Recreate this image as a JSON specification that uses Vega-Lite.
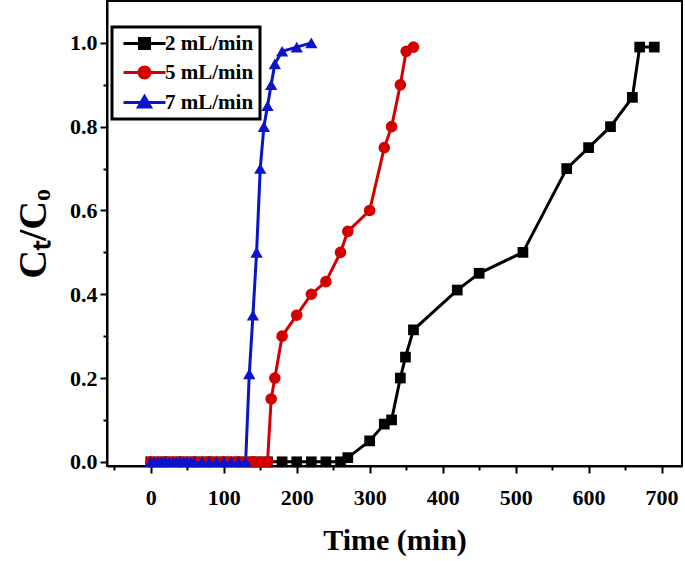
{
  "$schema": "https://vega.github.io/schema/vega-lite/v6.json",
  "width": 575,
  "height": 465,
  "autosize": {"type": "none"},
  "padding": {"left": 107, "top": 1, "right": 3, "bottom": 95},
  "background": "white",
  "config": {"view": {"stroke": "black", "strokeWidth": 2}, "font": "Liberation Serif"},
  "data": {"values": [
    {"series": "2 mL/min", "time": 0, "ratio": 0},
    {"series": "2 mL/min", "time": 20, "ratio": 0},
    {"series": "2 mL/min", "time": 40, "ratio": 0},
    {"series": "2 mL/min", "time": 60, "ratio": 0},
    {"series": "2 mL/min", "time": 80, "ratio": 0},
    {"series": "2 mL/min", "time": 100, "ratio": 0},
    {"series": "2 mL/min", "time": 120, "ratio": 0},
    {"series": "2 mL/min", "time": 140, "ratio": 0},
    {"series": "2 mL/min", "time": 160, "ratio": 0},
    {"series": "2 mL/min", "time": 180, "ratio": 0},
    {"series": "2 mL/min", "time": 200, "ratio": 0},
    {"series": "2 mL/min", "time": 220, "ratio": 0},
    {"series": "2 mL/min", "time": 240, "ratio": 0},
    {"series": "2 mL/min", "time": 260, "ratio": 0},
    {"series": "2 mL/min", "time": 270, "ratio": 0.01},
    {"series": "2 mL/min", "time": 300, "ratio": 0.05},
    {"series": "2 mL/min", "time": 320, "ratio": 0.09},
    {"series": "2 mL/min", "time": 330, "ratio": 0.1},
    {"series": "2 mL/min", "time": 342, "ratio": 0.2},
    {"series": "2 mL/min", "time": 349, "ratio": 0.25},
    {"series": "2 mL/min", "time": 360, "ratio": 0.315},
    {"series": "2 mL/min", "time": 420, "ratio": 0.41},
    {"series": "2 mL/min", "time": 450, "ratio": 0.45},
    {"series": "2 mL/min", "time": 510, "ratio": 0.5},
    {"series": "2 mL/min", "time": 570, "ratio": 0.7},
    {"series": "2 mL/min", "time": 600, "ratio": 0.75},
    {"series": "2 mL/min", "time": 630, "ratio": 0.8},
    {"series": "2 mL/min", "time": 660, "ratio": 0.87},
    {"series": "2 mL/min", "time": 670, "ratio": 0.99},
    {"series": "2 mL/min", "time": 690, "ratio": 0.99},
    {"series": "5 mL/min", "time": 0, "ratio": 0},
    {"series": "5 mL/min", "time": 10, "ratio": 0},
    {"series": "5 mL/min", "time": 20, "ratio": 0},
    {"series": "5 mL/min", "time": 30, "ratio": 0},
    {"series": "5 mL/min", "time": 40, "ratio": 0},
    {"series": "5 mL/min", "time": 50, "ratio": 0},
    {"series": "5 mL/min", "time": 60, "ratio": 0},
    {"series": "5 mL/min", "time": 70, "ratio": 0},
    {"series": "5 mL/min", "time": 80, "ratio": 0},
    {"series": "5 mL/min", "time": 90, "ratio": 0},
    {"series": "5 mL/min", "time": 100, "ratio": 0},
    {"series": "5 mL/min", "time": 110, "ratio": 0},
    {"series": "5 mL/min", "time": 120, "ratio": 0},
    {"series": "5 mL/min", "time": 130, "ratio": 0},
    {"series": "5 mL/min", "time": 140, "ratio": 0},
    {"series": "5 mL/min", "time": 150, "ratio": 0},
    {"series": "5 mL/min", "time": 160, "ratio": 0},
    {"series": "5 mL/min", "time": 165, "ratio": 0.15},
    {"series": "5 mL/min", "time": 170, "ratio": 0.2},
    {"series": "5 mL/min", "time": 180, "ratio": 0.3},
    {"series": "5 mL/min", "time": 200, "ratio": 0.35},
    {"series": "5 mL/min", "time": 220, "ratio": 0.4},
    {"series": "5 mL/min", "time": 240, "ratio": 0.43},
    {"series": "5 mL/min", "time": 260, "ratio": 0.5},
    {"series": "5 mL/min", "time": 270, "ratio": 0.55},
    {"series": "5 mL/min", "time": 300, "ratio": 0.6},
    {"series": "5 mL/min", "time": 320, "ratio": 0.75},
    {"series": "5 mL/min", "time": 330, "ratio": 0.8},
    {"series": "5 mL/min", "time": 342, "ratio": 0.9},
    {"series": "5 mL/min", "time": 350, "ratio": 0.98},
    {"series": "5 mL/min", "time": 360, "ratio": 0.99},
    {"series": "7 mL/min", "time": 0, "ratio": 0},
    {"series": "7 mL/min", "time": 5, "ratio": 0},
    {"series": "7 mL/min", "time": 10, "ratio": 0},
    {"series": "7 mL/min", "time": 15, "ratio": 0},
    {"series": "7 mL/min", "time": 20, "ratio": 0},
    {"series": "7 mL/min", "time": 25, "ratio": 0},
    {"series": "7 mL/min", "time": 30, "ratio": 0},
    {"series": "7 mL/min", "time": 35, "ratio": 0},
    {"series": "7 mL/min", "time": 40, "ratio": 0},
    {"series": "7 mL/min", "time": 45, "ratio": 0},
    {"series": "7 mL/min", "time": 50, "ratio": 0},
    {"series": "7 mL/min", "time": 55, "ratio": 0},
    {"series": "7 mL/min", "time": 60, "ratio": 0},
    {"series": "7 mL/min", "time": 70, "ratio": 0},
    {"series": "7 mL/min", "time": 80, "ratio": 0},
    {"series": "7 mL/min", "time": 90, "ratio": 0},
    {"series": "7 mL/min", "time": 100, "ratio": 0},
    {"series": "7 mL/min", "time": 110, "ratio": 0},
    {"series": "7 mL/min", "time": 120, "ratio": 0},
    {"series": "7 mL/min", "time": 130, "ratio": 0},
    {"series": "7 mL/min", "time": 135, "ratio": 0.21},
    {"series": "7 mL/min", "time": 140, "ratio": 0.35},
    {"series": "7 mL/min", "time": 145, "ratio": 0.5},
    {"series": "7 mL/min", "time": 150, "ratio": 0.7},
    {"series": "7 mL/min", "time": 155, "ratio": 0.8},
    {"series": "7 mL/min", "time": 160, "ratio": 0.85},
    {"series": "7 mL/min", "time": 165, "ratio": 0.9},
    {"series": "7 mL/min", "time": 170, "ratio": 0.95},
    {"series": "7 mL/min", "time": 180, "ratio": 0.98},
    {"series": "7 mL/min", "time": 200, "ratio": 0.99},
    {"series": "7 mL/min", "time": 220, "ratio": 1.0}
  ]},
  "encoding": {
    "x": {
      "field": "time", "type": "quantitative",
      "scale": {"domain": [-60, 728], "nice": false, "zero": false},
      "axis": {
        "values": [-50, 0, 50, 100, 150, 200, 250, 300, 350, 400, 450, 500, 550, 600, 650, 700],
        "labelExpr": "datum.value % 100 === 0 ? datum.label : ''",
        "tickSize": {"condition": {"test": "datum.value % 100 !== 0", "value": 4}, "value": 7},
        "tickWidth": 2, "tickColor": "black",
        "domainColor": "black", "domainWidth": 2,
        "grid": false,
        "labelFont": "Liberation Serif", "labelFontWeight": "bold", "labelFontSize": 22, "labelColor": "black",
        "labelPadding": 14, "labelFlush": false, "labelOverlap": false,
        "title": "Time (min)", "titleFont": "Liberation Serif", "titleFontWeight": "bold", "titleFontSize": 30,
        "titleColor": "black", "titlePadding": 17
      }
    },
    "y": {
      "field": "ratio", "type": "quantitative",
      "scale": {"domain": [-0.01, 1.1], "nice": false, "zero": false},
      "axis": {
        "values": [0, 0.1, 0.2, 0.3, 0.4, 0.5, 0.6, 0.7, 0.8, 0.9, 1.0],
        "labelExpr": "round(datum.value * 10) % 2 === 0 ? format(datum.value, '.1f') : ''",
        "tickSize": {"condition": {"test": "round(datum.value * 10) % 2 !== 0", "value": 4}, "value": 7},
        "tickWidth": 2, "tickColor": "black",
        "domainColor": "black", "domainWidth": 2,
        "grid": false,
        "labelFont": "Liberation Serif", "labelFontWeight": "bold", "labelFontSize": 22, "labelColor": "black",
        "labelPadding": 3, "labelFlush": false, "labelOverlap": false,
        "title": "Cₜ/Cₒ", "titleFont": "Liberation Serif", "titleFontWeight": "bold", "titleFontSize": 40,
        "titleColor": "black", "titlePadding": 16
      }
    },
    "color": {
      "field": "series", "type": "nominal",
      "scale": {"domain": ["2 mL/min", "5 mL/min", "7 mL/min"], "range": ["#000000", "#d40000", "#0a14c8"]},
      "legend": {
        "title": null,
        "orient": "none", "legendX": 5, "legendY": 26,
        "padding": 6,
        "symbolSize": 100, "symbolOffset": 16,
        "labelOffset": 10,
        "labelFont": "Liberation Serif", "labelFontWeight": "bold", "labelFontSize": 21, "labelColor": "black",
        "rowPadding": 6,
        "encode": {
          "legend": {
            "update": {
              "stroke": {"value": "black"},
              "strokeWidth": {"value": 3},
              "fill": {"value": "white"}
            }
          },
          "symbols": {
            "update": {
              "shape": {"signal": "datum.value === '2 mL/min' ? 'M-4.2,0H4.2M-1,-1H1V1H-1Z' : datum.value === '5 mL/min' ? 'M-4.2,0H4.2M-1.1,0A1.1,1.1,0,1,1,1.1,0A1.1,1.1,0,1,1,-1.1,0Z' : 'M-4.2,0H4.2M0,-1.2L1.2,0.9H-1.2Z'"},
              "size": {"value": 100},
              "fill": {"signal": "scale('color', datum.value)"},
              "stroke": {"signal": "scale('color', datum.value)"},
              "strokeWidth": {"value": 3},
              "opacity": {"value": 1}
            }
          }
        }
      }
    }
  },
  "layer": [
    {"mark": {"type": "line", "strokeWidth": 3}},
    {
      "transform": [{"filter": "datum.series === '2 mL/min'"}],
      "mark": {"type": "square", "filled": true, "opacity": 1, "size": 115}
    },
    {
      "transform": [{"filter": "datum.series === '5 mL/min'"}],
      "mark": {"type": "circle", "opacity": 1, "size": 135}
    },
    {
      "transform": [{"filter": "datum.series === '7 mL/min'"}],
      "mark": {"type": "point", "shape": "triangle-up", "filled": true, "opacity": 1, "size": 150}
    }
  ]
}
